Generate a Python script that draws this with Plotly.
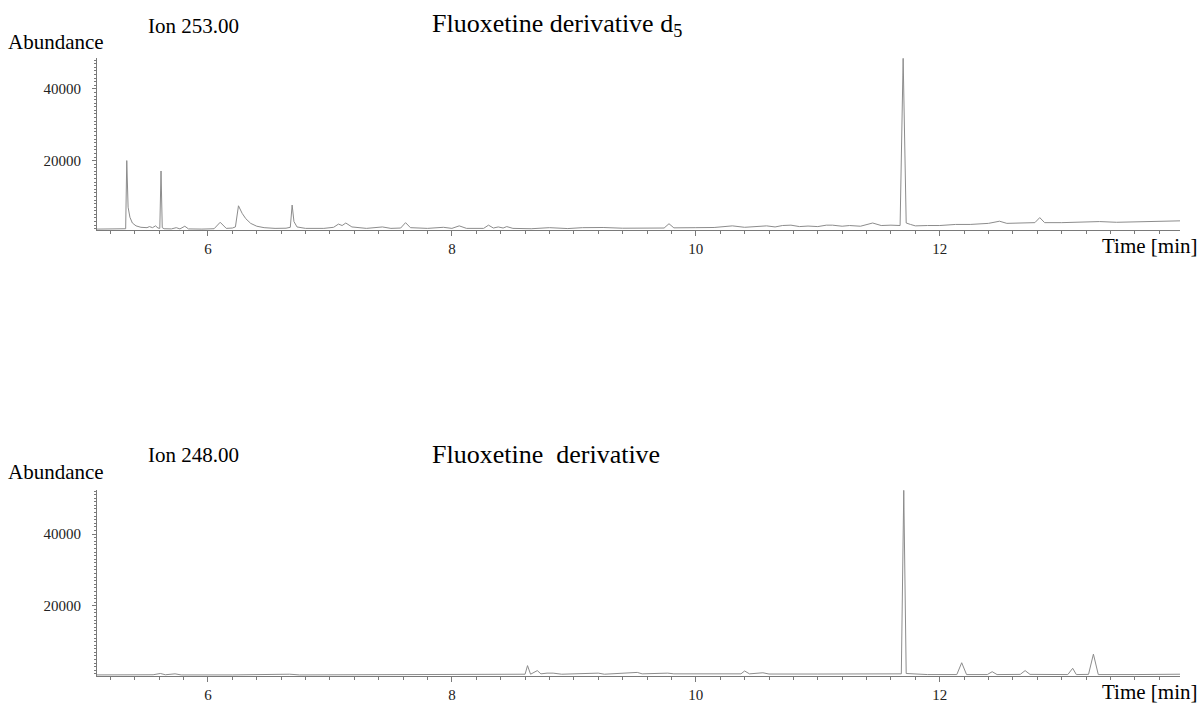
import plotly.graph_objects as go

# ---------------- data ----------------
top_time = [5.09, 5.15, 5.22, 5.30, 5.325, 5.334, 5.345, 5.36, 5.38, 5.41,
            5.45, 5.50, 5.52, 5.545, 5.57, 5.59, 5.605, 5.615, 5.625, 5.64,
            5.70, 5.74, 5.77, 5.81, 5.84, 5.95, 6.05, 6.10, 6.15, 6.20,
            6.225, 6.25, 6.28, 6.31, 6.35, 6.40, 6.46, 6.55, 6.64, 6.675,
            6.69, 6.705, 6.73, 6.80, 6.95, 7.03, 7.07, 7.10, 7.13, 7.18,
            7.30, 7.43, 7.50, 7.58, 7.62, 7.66, 7.80, 7.93, 8.00, 8.06,
            8.12, 8.26, 8.30, 8.34, 8.38, 8.42, 8.45, 8.50, 8.65, 8.80,
            8.95, 9.07, 9.24, 9.40, 9.55, 9.74, 9.78, 9.82, 10.0, 10.15,
            10.30, 10.40, 10.58, 10.65, 10.71, 10.78, 10.85, 10.92, 11.0, 11.07,
            11.12, 11.20, 11.26, 11.35, 11.45, 11.52, 11.60, 11.675, 11.70, 11.725,
            11.76, 11.80, 11.90, 12.0, 12.13, 12.25, 12.40, 12.49, 12.55, 12.70,
            12.78, 12.82, 12.86, 13.0, 13.2, 13.31, 13.45, 13.7, 13.97]
top_abundance = [900, 950, 850, 900, 1000, 20000, 7000, 4200, 2600, 1800,
                 1400, 1300, 1600, 1300, 1800, 1200, 1100, 17100, 1300, 1000,
                 950, 1300, 950, 1700, 950, 900, 1000, 2800, 1100, 1200,
                 1500, 7400, 5300, 3800, 2500, 1700, 1300, 1100, 1150, 1400,
                 7600, 3000, 1500, 1100, 1100, 1400, 2300, 1900, 2600, 1500,
                 1100, 1500, 1100, 1200, 2700, 1300, 1100, 1400, 1100, 1800,
                 1100, 1100, 2000, 1200, 1500, 1200, 1600, 1100, 1000, 1300,
                 1050, 1300, 1350, 1150, 1200, 1200, 2400, 1250, 1300, 1350,
                 1800, 1400, 1800, 1500, 1900, 2000, 1600, 1750, 1600, 2000,
                 2000, 1700, 1900, 1700, 2600, 1900, 2000, 1900, 48500, 2600,
                 2200, 1800, 1900, 1900, 2200, 2200, 2500, 3100, 2500, 2600,
                 2700, 4100, 2700, 2700, 2800, 3000, 2800, 2900, 3200]

bottom_time = [5.09, 5.30, 5.55, 5.61, 5.65, 5.73, 5.78, 6.20, 6.67, 6.75,
               7.20, 7.70, 8.20, 8.55, 8.60, 8.62, 8.645, 8.70, 8.73, 8.78,
               8.83, 8.90, 9.20, 9.25, 9.48, 9.52, 9.56, 9.77, 9.82, 9.90,
               10.20, 10.37, 10.40, 10.44, 10.55, 10.60, 11.00, 11.43, 11.60, 11.685,
               11.705, 11.725, 11.90, 12.14, 12.18, 12.22, 12.39, 12.43, 12.47, 12.66,
               12.70, 12.74, 13.05, 13.09, 13.12, 13.22, 13.26, 13.30, 13.60, 13.97]
bottom_abundance = [700, 700, 750, 1100, 750, 1000, 700, 700, 900, 700,
                    700, 750, 750, 800, 900, 3300, 900, 1900, 1000, 1200,
                    1200, 900, 1200, 900, 1400, 1400, 1000, 1200, 1000, 1000,
                    900, 1000, 1800, 1000, 1300, 950, 950, 1000, 1000, 1000,
                    52200, 1100, 800, 800, 4100, 800, 800, 1600, 800, 850,
                    1900, 850, 800, 2550, 800, 850, 6500, 800, 800, 900]

x_tick_values = [6, 8, 10, 12]
y_tick_values = [20000, 40000]

# ---------------- figure ----------------
W, H = 1203, 703
LINE = "#8c8c8c"
AXIS = "#7a7a7a"
FONT = "Liberation Serif"

def px(x):
    return x / W

def py(y):
    return 1 - y / H

fig = go.Figure()
fig.add_trace(go.Scatter(x=top_time, y=top_abundance, mode="lines",
                         line=dict(color=LINE, width=1), xaxis="x", yaxis="y",
                         showlegend=False))
fig.add_trace(go.Scatter(x=bottom_time, y=bottom_abundance, mode="lines",
                         line=dict(color=LINE, width=1), xaxis="x2", yaxis="y2",
                         showlegend=False))

xcommon = dict(range=[5.09, 13.97], tickvals=x_tick_values, ticks="outside",
               ticklen=5, tickcolor=AXIS, showline=True, linecolor=AXIS,
               linewidth=1, showgrid=False, zeroline=False, automargin=False,
               tickfont=dict(family=FONT, size=15, color="#222"),
               minor=dict(dtick=0.2, tick0=0, ticks="outside", ticklen=3,
                          tickcolor=AXIS, showgrid=False),
               domain=[px(97), px(1180)])
ycommon = dict(tickvals=y_tick_values, tickformat="d", ticks="outside", ticklen=4,
               tickcolor=AXIS, showline=True, linecolor=AXIS, linewidth=1,
               showgrid=False, zeroline=False, ticklabelstandoff=8,
               automargin=False,
               tickfont=dict(family=FONT, size=15, color="#222"),
               minor=dict(dtick=1000, tick0=0, ticks="outside", ticklen=2,
                          tickcolor=AXIS, showgrid=False))

fig.update_layout(
    width=W, height=H, autosize=False,
    margin=dict(l=0, r=0, t=0, b=0),
    paper_bgcolor="white", plot_bgcolor="white",
    xaxis=dict(**xcommon, anchor="y"),
    yaxis=dict(**ycommon, range=[650, 48600], domain=[py(230), py(58)], anchor="x"),
    xaxis2=dict(**xcommon, anchor="y2"),
    yaxis2=dict(**ycommon, range=[400, 52300], domain=[py(676), py(490)], anchor="x2"),
)

def label(text, x, y, size, xanchor="left"):
    fig.add_annotation(text=text, x=px(x), y=py(y), xref="paper", yref="paper",
                       xanchor=xanchor, yanchor="middle", showarrow=False,
                       font=dict(family=FONT, size=size, color="black"))

label("Abundance", 6, 42, 21)
label("Ion 253.00", 146, 26, 21)
label("Fluoxetine derivative d<sub>5</sub>", 430, 25, 26)
label("Time [min]", 1199, 246, 21, xanchor="right")

label("Abundance", 6, 472, 21)
label("Ion 248.00", 146, 455, 21)
label("Fluoxetine\u00a0 derivative", 430, 454, 26)
label("Time [min]", 1199, 692, 21, xanchor="right")

fig.write_html(
    "out.html",
    config={"displayModeBar": False},
    post_script="document.body.style.margin='0';document.body.style.overflow='hidden';",
)
